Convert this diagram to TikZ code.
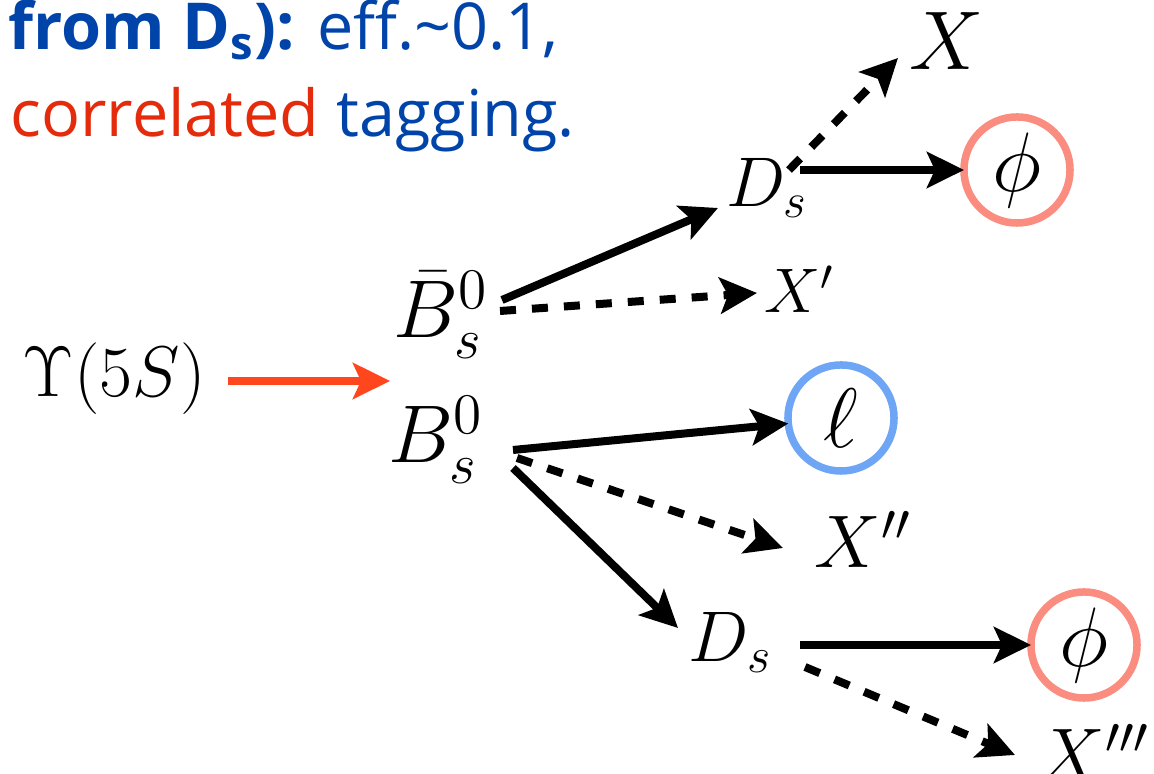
\RequirePackage{fix-cm}
\documentclass[tikz,border=0pt]{standalone}
\usepackage[no-math]{fontspec}
\newfontfamily\slidefont{Open Sans}
\usetikzlibrary{arrows.meta}
\definecolor{slideblue}{RGB}{0,68,170}
\definecolor{slidered}{RGB}{228,44,12}
\definecolor{decay}{RGB}{255,70,28}
\definecolor{phiring}{RGB}{250,140,128}
\definecolor{lepring}{RGB}{110,166,245}
\newcommand{\fsz}[1]{\fontsize{#1}{#1}\selectfont}
\tikzset{
  lbl/.style={inner sep=0pt, anchor=base west},
  ring/.style={circle, draw=#1, line width=0.075cm, minimum size=1.06cm,
               inner sep=0pt, outer sep=0pt},
  main/.style={-{Stealth[length=0.37cm,width=0.36cm,inset=0.08cm]}, line width=0.08cm},
  side/.style={main, dash pattern=on 0.16cm off 0.16cm},
}
\begin{document}
\begin{tikzpicture}[x=0.01cm, y=-0.01cm]
    \useasboundingbox (0,0) rectangle (1154,774);
    \clip (0,0) rectangle (1154,774);
    % slide text
    \node[lbl, text=slideblue, font=\slidefont\fsz{18.4}] (head) at (8,50)
      {\textbf{from D\textsubscript{s}):} eff.\textasciitilde 0.1,};
    \node[lbl, font=\slidefont\fsz{18.4}] (tag) at (10,137)
      {\textcolor{slidered}{correlated} \textcolor{slideblue}{tagging.}};
    % decay chain
    \node[lbl, font=\fsz{20.4}] (ups) at (22,397) {$\Upsilon(5S)$};
    \coordinate (pair) at (390,381);
    \node[lbl, font=\fsz{23.3}] (bbar) at (393,338) {$\bar{B}_s^0$};
    \node[lbl, font=\fsz{23.3}] (bs)   at (388,463) {$B_s^0$};
    \node[lbl, font=\fsz{20}]   (ds1)  at (726,207) {$D_s$};
    \node[lbl, font=\fsz{20.4}] (ds2)  at (688,662) {$D_s$};
    \node[lbl, font=\fsz{23.7}] (x0)   at (909,70)  {$X$};
    \node[lbl, font=\fsz{17.9}] (x1)   at (764,313) {$X'$};
    \node[lbl, font=\fsz{21.2}] (x2)   at (814,568) {$X''$};
    \node[lbl, font=\fsz{21.2}] (x3)   at (1038,781) {$X'''$};
    \node[ring=phiring, font=\fsz{24}] (phi1) at (1017,170) {$\phi$};
    \node[ring=lepring, font=\fsz{24}] (lep)  at (841,418)  {$\ell$};
    \node[ring=phiring, font=\fsz{24}] (phi2) at (1084,645) {$\phi$};
    % arrows
    \draw[main, decay] ([shift={(206,-16)}]ups.base west) -- (pair);
    \draw[main] ([shift={(109,-38)}]bbar.base west) -- ([shift={(-8,1)}]ds1.base west);
    \draw[side] ([shift={(107,-27)}]bbar.base west) -- ([shift={(-7,-20)}]x1.base west);
    \draw[side] ([shift={(63,-37)}]ds1.base west) -- ([shift={(-11,-12)}]x0.base west);
    \draw[main] ([shift={(74,-37)}]ds1.base west) -- (phi1.west);
    \draw[main] ([shift={(125,-13)}]bs.base west) -- (lep.186);
    \draw[side] ([shift={(129,-5)}]bs.base west) -- ([shift={(-31,-20)}]x2.base west);
    \draw[main] ([shift={(125,5)}]bs.base west) -- ([shift={(-10,-34)}]ds2.base west);
    \draw[main] ([shift={(112,-17)}]ds2.base west) -- (phi2.west);
    \draw[side] ([shift={(117,5)}]ds2.base west) -- ([shift={(-23,-26)}]x3.base west);
\end{tikzpicture}
\end{document}
